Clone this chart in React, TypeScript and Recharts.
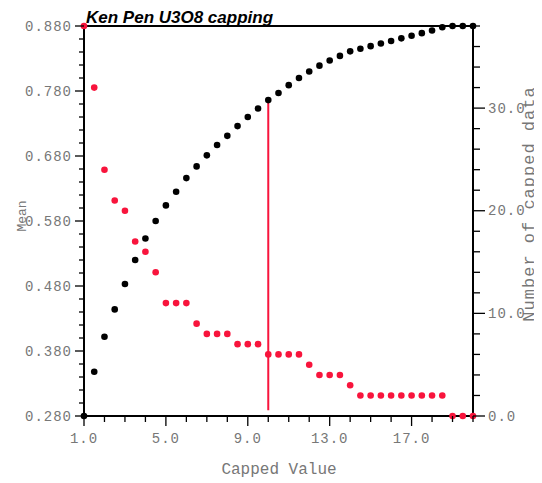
import React from 'react';
import { ComposedChart, Line, XAxis, YAxis, ReferenceLine } from 'recharts';

const TITLE = 'Ken Pen U3O8 capping';
const X_LABEL = 'Capped Value';
const LEFT_LABEL = 'Mean';
const RIGHT_LABEL = 'Number of capped data';

const capValues = [
  1, 1.5, 2, 2.5, 3, 3.5, 4, 4.5, 5, 5.5, 6, 6.5, 7, 7.5, 8, 8.5, 9, 9.5, 10, 10.5,
  11, 11.5, 12, 12.5, 13, 13.5, 14, 14.5, 15, 15.5, 16, 16.5, 17, 17.5, 18, 18.5, 19, 19.5, 20,
];
const meanValues = [
  0.28, 0.348, 0.402, 0.444, 0.483, 0.52, 0.553, 0.58, 0.604, 0.625, 0.646, 0.664, 0.681, 0.697,
  0.711, 0.726, 0.74, 0.753, 0.766, 0.777, 0.789, 0.8, 0.81, 0.819, 0.827, 0.834, 0.841, 0.845,
  0.849, 0.853, 0.857, 0.861, 0.865, 0.869, 0.873, 0.878, 0.88, 0.88, 0.88,
];
const cappedCounts = [
  38, 32, 24, 21, 20, 17, 16, 14, 11, 11, 11, 9, 8, 8, 8, 7, 7, 7, 6, 6,
  6, 6, 5, 4, 4, 4, 3, 2, 2, 2, 2, 2, 2, 2, 2, 2, 0, 0, 0,
];

const CHOSEN_CAP = 10;
const CAP_LINE_BOTTOM = 0.289;

const xTicks = [1, 2, 3, 4, 5, 6, 7, 8, 9, 10, 11, 12, 13, 14, 15, 16, 17, 18, 19, 20];
const xMajorTicks = [1, 5, 9, 13, 17];
const leftTicks = [
  0.28, 0.3, 0.32, 0.34, 0.36, 0.38, 0.4, 0.42, 0.44, 0.46, 0.48, 0.5, 0.52, 0.54, 0.56, 0.58,
  0.6, 0.62, 0.64, 0.66, 0.68, 0.7, 0.72, 0.74, 0.76, 0.78, 0.8, 0.82, 0.84, 0.86, 0.88,
];
const leftMajorTicks = [0.28, 0.38, 0.48, 0.58, 0.68, 0.78, 0.88];
const rightTicks = [0, 2, 4, 6, 8, 10, 12, 14, 16, 18, 20, 22, 24, 26, 28, 30, 32, 34, 36, 38];
const rightMajorTicks = [0, 10, 20, 30];

const data = capValues.map((c, i) => ({ cap: c, mean: meanValues[i], count: cappedCounts[i] }));
const chosenMean = data.find((d) => d.cap === CHOSEN_CAP)!.mean;

const RED = '#f8143c';
const TICK_TEXT = '#777777';
const MONO = '"Liberation Mono", "DejaVu Sans Mono", monospace';

const isMajor = (list: number[], v: number) => list.some((m) => Math.abs(m - v) < 1e-6);

const LeftTick = (props: any) => {
  const { x, y, payload } = props;
  const v = payload.value as number;
  const major = isMajor(leftMajorTicks, v);
  return (
    <g>
      <line x1={x - (major ? 9 : 5)} x2={x} y1={y} y2={y} stroke="#000" strokeWidth={1.3} />
      {major && (
        <text x={x - 12} y={y} dy={4.5} textAnchor="end" fontFamily={MONO} fontSize={14} letterSpacing={1} fill={TICK_TEXT}>
          {v.toFixed(3)}
        </text>
      )}
    </g>
  );
};

const RightTick = (props: any) => {
  const { x, y, payload } = props;
  const v = payload.value as number;
  const major = isMajor(rightMajorTicks, v);
  return (
    <g>
      <line x1={x} x2={x + (major ? 12 : 7)} y1={y} y2={y} stroke="#000" strokeWidth={1.3} />
      {major && (
        <text x={x + 15} y={y} dy={4.5} textAnchor="start" fontFamily={MONO} fontSize={14} letterSpacing={1} fill={TICK_TEXT}>
          {v.toFixed(1)}
        </text>
      )}
    </g>
  );
};

const BottomTick = (props: any) => {
  const { x, y, payload } = props;
  const v = payload.value as number;
  const major = isMajor(xMajorTicks, v);
  return (
    <g>
      <line x1={x} x2={x} y1={y} y2={y + (major ? 10 : 6)} stroke="#000" strokeWidth={1.3} />
      {major && (
        <text x={x} y={y + 27} textAnchor="middle" fontFamily={MONO} fontSize={14} letterSpacing={1} fill={TICK_TEXT}>
          {v.toFixed(1)}
        </text>
      )}
    </g>
  );
};

export default function App() {
  return (
    <div style={{ position: 'relative', width: 534, height: 475 }}>
      <ComposedChart
        width={534}
        height={475}
        data={data}
        margin={{ top: 18, right: 9, bottom: 7, left: 6 }}
      >
        <XAxis
          dataKey="cap"
          type="number"
          domain={[1, 20]}
          ticks={xTicks}
          interval={0}
          height={60}
          tickSize={0}
          tickMargin={0}
          tickLine={false}
          tick={<BottomTick />}
          axisLine={{ stroke: '#000', strokeWidth: 2 }}
          label={{
            content: () => (
              <text x={271} y={466} textAnchor="middle" fontFamily={MONO} fontSize={16} fill={TICK_TEXT}>
                {X_LABEL}
              </text>
            ),
          }}
        />
        <YAxis
          yAxisId="left"
          orientation="left"
          type="number"
          domain={[0.28, 0.88]}
          ticks={leftTicks}
          interval={0}
          width={70}
          tickSize={0}
          tickMargin={0}
          tickLine={false}
          tick={<LeftTick />}
          axisLine={{ stroke: '#000', strokeWidth: 2 }}
          label={{
            content: () => (
              <text
                x={14}
                y={208}
                textAnchor="middle"
                dominantBaseline="central"
                transform="rotate(-90 14 208)"
                fontFamily={MONO}
                fontSize={13}
                fill={TICK_TEXT}
              >
                {LEFT_LABEL}
              </text>
            ),
          }}
        />
        <YAxis
          yAxisId="right"
          orientation="right"
          type="number"
          domain={[0, 38]}
          ticks={rightTicks}
          interval={0}
          width={60}
          tickSize={0}
          tickMargin={0}
          tickLine={false}
          tick={<RightTick />}
          axisLine={{ stroke: '#000', strokeWidth: 2 }}
          label={{
            content: () => (
              <text
                x={521}
                y={196}
                textAnchor="middle"
                dominantBaseline="central"
                transform="rotate(-90 521 196)"
                fontFamily={MONO}
                fontSize={17}
                letterSpacing={1}
                fill={TICK_TEXT}
              >
                {RIGHT_LABEL}
              </text>
            ),
          }}
        />
        <ReferenceLine yAxisId="left" y={0.88} stroke="#000" strokeWidth={2} />
        <ReferenceLine
          yAxisId="left"
          segment={[
            { x: CHOSEN_CAP, y: CAP_LINE_BOTTOM },
            { x: CHOSEN_CAP, y: chosenMean },
          ]}
          stroke={RED}
          strokeWidth={2}
        />
        <Line
          yAxisId="left"
          dataKey="mean"
          stroke="none"
          dot={{ r: 3.3, fill: '#000', stroke: 'none' }}
          activeDot={false}
          isAnimationActive={false}
        />
        <Line
          yAxisId="right"
          dataKey="count"
          stroke="none"
          dot={{ r: 3.3, fill: RED, stroke: 'none' }}
          activeDot={false}
          isAnimationActive={false}
        />
      </ComposedChart>
      <div
        style={{
          position: 'absolute',
          left: 78,
          top: 1,
          fontFamily: '"Liberation Sans", Arial, sans-serif',
          fontWeight: 'bold',
          fontStyle: 'italic',
          fontSize: 17,
          lineHeight: '17px',
          color: '#000',
          whiteSpace: 'nowrap',
        }}
      >
        {TITLE}
      </div>
    </div>
  );
}
